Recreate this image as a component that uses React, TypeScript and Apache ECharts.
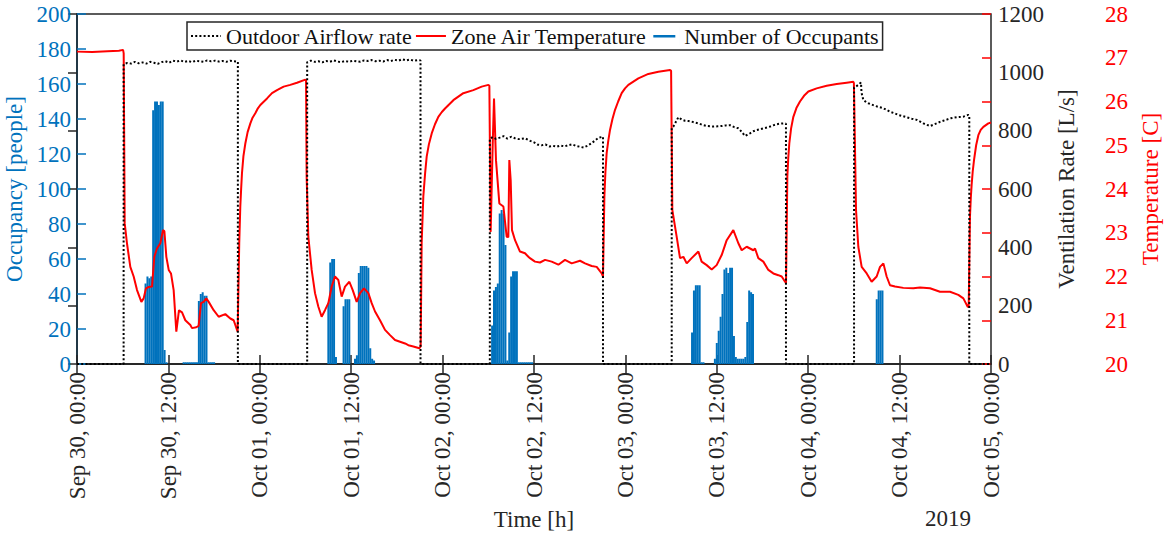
import React, { useEffect, useRef } from 'react';
import * as echarts from 'echarts';

const FONT = '"Liberation Serif", "Times New Roman", Times, serif';
const BLUE = '#0072BD';
const RED = '#FF0000';
const DARK = '#262626';

// x tick labels, one every 12 hours starting Sep 30 00:00
const tickLabels = [
  'Sep 30, 00:00', 'Sep 30, 12:00', 'Oct 01, 00:00', 'Oct 01, 12:00',
  'Oct 02, 00:00', 'Oct 02, 12:00', 'Oct 03, 00:00', 'Oct 03, 12:00',
  'Oct 04, 00:00', 'Oct 04, 12:00', 'Oct 05, 00:00',
];

// Zone air temperature [C], [hour since Sep 30 00:00, value]
const tempSep30: [number, number][] = [
  [0, 27.14], [2, 27.13], [4, 27.15], [5.5, 27.16], [6.05, 27.18], [6.13, 27.1], [6.26, 23.22],
  [6.56, 22.76], [7.0, 22.22], [7.44, 22.0], [7.88, 21.69], [8.45, 21.42], [8.75, 21.5],
  [9.06, 21.73], [9.41, 21.76], [9.85, 21.77], [10.15, 22.45], [10.5, 22.64], [10.94, 22.76],
  [11.29, 23.06], [11.47, 23.04], [11.73, 22.45], [12.04, 22.15], [12.34, 22.07], [12.69, 21.69],
  [13.04, 20.74], [13.39, 21.23], [13.79, 21.18], [14.22, 21.0], [14.88, 20.89], [15.1, 20.82],
  [15.67, 20.84], [15.97, 20.87], [16.28, 21.39], [16.63, 21.42], [16.98, 21.5], [17.29, 21.42],
  [17.94, 21.23], [18.6, 21.08], [19.47, 21.14], [20.13, 21.04], [20.57, 21.0], [21.09, 20.74],
  [21.3, 22.76], [21.44, 23.6], [21.55, 24.0], [21.66, 24.36], [21.85, 24.75], [22.1, 25.04],
  [22.4, 25.3], [22.76, 25.5], [23.05, 25.63], [23.41, 25.73], [23.7, 25.83],
];
const tempOct01: [number, number][] = [
  [24.07, 25.92], [24.95, 26.07], [25.6, 26.19], [26.26, 26.26], [27.13, 26.34], [28.0, 26.38],
  [28.88, 26.43], [29.98, 26.5], [30.07, 26.48], [30.15, 24.28], [30.37, 22.91], [30.81, 22.15],
  [31.25, 21.62], [31.69, 21.31], [32.12, 21.08], [32.56, 21.23], [33.0, 21.39], [33.44, 21.77],
  [33.87, 22.0], [34.31, 21.92], [34.75, 21.54], [35.19, 21.77], [35.76, 21.88], [36.2, 21.69],
  [36.72, 21.42], [37.16, 21.62], [37.68, 21.73], [38.25, 21.62], [38.69, 21.39], [39.13, 21.2],
  [39.78, 21.0], [40.44, 20.78], [41.1, 20.66], [41.75, 20.55], [42.41, 20.51], [43.07, 20.47],
  [43.5, 20.43], [44.16, 20.4], [44.95, 20.36], [45.12, 20.4], [45.25, 22.76], [45.47, 23.83],
  [45.7, 24.35], [45.91, 24.74], [46.2, 25.02], [46.57, 25.27], [47.0, 25.48], [47.44, 25.65],
  [47.9, 25.76],
];
const tempOct02: [number, number][] = [
  [48.32, 25.84], [49.41, 26.03], [50.72, 26.19], [52.04, 26.26], [53.13, 26.34], [54.01, 26.38],
  [54.14, 26.36], [54.31, 23.02], [54.58, 25.04], [54.75, 26.07], [55.01, 24.66], [55.45, 23.67],
  [55.98, 23.6], [56.41, 22.91], [56.63, 22.9], [56.76, 24.66], [56.94, 24.2], [57.11, 23.06],
  [57.51, 22.83], [58.16, 22.57], [58.82, 22.53], [59.26, 22.45], [59.47, 22.42], [60.13, 22.34],
  [60.79, 22.32], [61.45, 22.38], [62.32, 22.34], [63.2, 22.27], [64.07, 22.38], [64.95, 22.3],
  [66.04, 22.36], [66.7, 22.3], [67.57, 22.24], [68.23, 22.22], [68.89, 22.07], [69.06, 22.0],
  [69.24, 23.83], [69.38, 24.4], [69.54, 24.82], [69.75, 25.1], [69.98, 25.35], [70.3, 25.6],
  [70.64, 25.81], [71.05, 26.0], [71.51, 26.19], [71.95, 26.3],
];
const tempOct03: [number, number][] = [
  [72.39, 26.38], [73.7, 26.53], [75.01, 26.63], [76.33, 26.68], [77.86, 26.72], [78.0, 26.7],
  [78.16, 23.52], [78.73, 22.91], [79.17, 22.42], [79.61, 22.45], [80.05, 22.3], [80.7, 22.42],
  [81.58, 22.57], [82.01, 22.34], [82.67, 22.26], [83.33, 22.16], [83.98, 22.26], [84.64, 22.49],
  [85.3, 22.83], [86.17, 23.06], [86.83, 22.76], [87.27, 22.6], [87.92, 22.68], [88.8, 22.6],
  [89.02, 22.64], [89.45, 22.42], [90.11, 22.34], [90.77, 22.15], [91.42, 22.07], [92.08, 22.03],
  [92.52, 22.0], [92.96, 21.88], [93.09, 21.85], [93.26, 24.28], [93.38, 24.7], [93.52, 25.04],
  [93.75, 25.38], [94.05, 25.65], [94.45, 25.85], [94.92, 26.0], [95.45, 26.13],
];
const tempOct04: [number, number][] = [
  [96.02, 26.23], [97.11, 26.3], [98.43, 26.36], [99.74, 26.4], [101.05, 26.43], [101.93, 26.45],
  [102.0, 26.42], [102.28, 23.52], [102.58, 22.68], [103.02, 22.22], [103.68, 22.07], [104.33, 21.88],
  [104.99, 22.0], [105.43, 22.22], [105.87, 22.3], [106.3, 22.0], [106.74, 21.8], [107.4, 21.77],
  [108.49, 21.74], [109.8, 21.73], [110.68, 21.75], [111.99, 21.73], [113.3, 21.65], [114.62, 21.65],
  [115.71, 21.58], [116.37, 21.5], [116.94, 21.31], [117.07, 21.3], [117.24, 23.37], [117.35, 23.8],
  [117.46, 24.1], [117.6, 24.4], [117.77, 24.66], [118.05, 25.0], [118.34, 25.23], [118.65, 25.35],
  [119.0, 25.42], [119.65, 25.5], [120, 25.52],
];

// Outdoor airflow rate [L/s]
const ventSep30: [number, number][] = [
  [0, 0], [6.12, 0], [6.12, 1028], [6.6, 1032], [7.1, 1030], [7.6, 1036], [8.1, 1031], [8.6, 1034],
  [9.1, 1030], [9.6, 1036], [10.1, 1033], [10.6, 1029], [11.1, 1035], [11.6, 1038], [12.1, 1033],
  [12.6, 1040], [13.1, 1037], [13.6, 1041], [14.1, 1036], [14.6, 1039], [15.1, 1035], [15.6, 1040],
  [16.1, 1038], [16.6, 1036], [17.1, 1041], [17.6, 1038], [18.1, 1040], [18.6, 1037], [19.1, 1039],
  [19.6, 1036], [20.1, 1040], [20.6, 1038], [21.12, 1037], [21.12, 0],
];
const ventOct01: [number, number][] = [
  [30.22, 0], [30.22, 1035], [30.7, 1040], [31.2, 1036], [31.7, 1038], [32.2, 1034], [32.7, 1039],
  [33.2, 1036], [33.7, 1041], [34.2, 1037], [34.7, 1035], [35.2, 1039], [35.7, 1036], [36.2, 1040],
  [36.7, 1038], [37.2, 1036], [37.7, 1041], [38.2, 1039], [38.7, 1042], [39.2, 1038], [39.7, 1040],
  [40.2, 1037], [40.7, 1042], [41.2, 1039], [41.7, 1043], [42.2, 1040], [42.7, 1045], [43.2, 1041],
  [43.7, 1044], [44.2, 1040], [44.7, 1042], [45.1, 1041], [45.1, 0],
];
const ventOct02: [number, number][] = [
  [54.2, 0], [54.2, 772], [54.6, 778], [55.0, 772], [55.5, 776], [56.0, 781], [56.5, 773],
  [57.0, 779], [57.5, 774], [58.0, 771], [58.8, 774], [59.5, 765], [60.0, 760], [60.5, 752],
  [61.0, 750], [61.5, 753], [62.0, 746], [62.5, 748], [63.0, 745], [63.5, 749], [64.0, 746],
  [64.5, 750], [65.0, 753], [65.5, 748], [66.0, 745], [66.5, 742], [67.0, 748], [67.5, 756],
  [68.0, 766], [68.5, 776], [69.06, 779], [69.06, 0],
];
const ventOct03: [number, number][] = [
  [78.08, 0], [78.08, 810], [78.3, 814], [78.95, 846], [79.4, 838], [79.83, 834], [80.3, 833],
  [80.7, 831], [81.1, 828], [81.58, 825], [82.1, 820], [82.67, 816], [83.1, 815], [83.55, 814],
  [84.1, 815], [84.64, 816], [85.2, 818], [85.73, 819], [86.3, 812], [86.83, 808], [87.3, 795],
  [87.7, 782], [88.0, 786], [88.36, 791], [88.8, 798], [89.2, 802], [89.7, 805], [90.1, 808],
  [90.6, 811], [91.0, 814], [91.4, 818], [91.86, 822], [92.3, 824], [92.74, 825], [93.08, 824],
  [93.08, 0],
];
const ventOct04: [number, number][] = [
  [102.02, 0], [102.02, 948], [102.3, 952], [102.58, 957], [102.93, 965], [103.0, 930],
  [103.24, 905], [103.6, 898], [103.9, 894], [104.3, 890], [104.77, 885], [105.3, 881],
  [105.86, 877], [106.3, 871], [106.74, 865], [107.3, 860], [107.83, 854], [108.4, 850],
  [108.93, 846], [109.6, 841], [110.24, 837], [110.7, 831], [111.12, 825], [111.6, 820],
  [112.0, 816], [112.4, 820], [112.87, 825], [113.3, 830], [113.74, 834], [114.2, 838],
  [114.62, 842], [115.05, 844], [115.49, 846], [115.9, 847], [116.37, 848], [116.7, 851],
  [117.0, 854], [117.15, 852], [117.15, 0], [120, 0],
];

// Number of occupants, 15-minute bins; each block starts at the given hour
const occStarts = [9.0, 14.0, 33.0, 54.5, 80.75, 83.75, 105.0];
const occSep30Morning = [46, 50, 49, 50, 145, 150, 150, 148, 150, 150, 8, 1];
const occSep30Afternoon = [1, 1, 1, 1, 1, 1, 1, 1, 36, 40, 41, 39, 39, 1, 1, 1, 1];
const occOct01 = [35, 58, 60, 60, 4, 0, 0, 0, 33, 37, 37, 37, 0, 0, 3, 5, 52, 56, 56, 56, 56, 55, 9, 3, 2];
const occOct02 = [22, 42, 44, 46, 86, 88, 86, 68, 2, 18, 50, 53, 53, 53, 1, 1, 1, 1, 1, 1, 1, 1];
const occOct03Morning = [18, 42, 45, 45, 45, 1, 1];
const occOct03Afternoon = [3, 12, 19, 27, 40, 54, 55, 52, 55, 55, 16, 4, 3, 3, 3, 3, 4, 24, 42, 41, 40];
const occOct04 = [37, 42, 42, 42];
const occBlocks = [occSep30Morning, occSep30Afternoon, occOct01, occOct02, occOct03Morning, occOct03Afternoon, occOct04];

const occupancyData: [number, number][] = [];
occBlocks.forEach((block, bi) => {
  block.forEach((v, i) => {
    if (v > 0) occupancyData.push([occStarts[bi] + i * 0.25, v]);
  });
});

const temperatureData = [...tempSep30, ...tempOct01, ...tempOct02, ...tempOct03, ...tempOct04];
const ventilationData = [...ventSep30, ...ventOct01, ...ventOct02, ...ventOct03, ...ventOct04];

const occIcon = 'path://M0,0h0.01v18h-0.01z M4,8h22v2.5h-22z M29.99,0h0.01v18h-0.01z';

export default function App() {
  const ref = useRef<HTMLDivElement>(null);
  useEffect(() => {
    if (!ref.current) return;
    const chart = echarts.init(ref.current, null, { renderer: 'svg' });
    const axisFont = { fontFamily: FONT, fontSize: 23 };
    chart.setOption({
      animation: false,
      backgroundColor: '#fff',
      textStyle: { fontFamily: FONT },
      grid: {
        left: 77, right: 177, top: 14, bottom: 172,
        containLabel: false, outerBoundsMode: 'none',
        show: true, borderColor: DARK, borderWidth: 1.5, backgroundColor: 'transparent',
      },
      legend: {
        left: 187, top: 22,
        padding: [3, 4, 3, 3],
        itemGap: 2,
        itemWidth: 30, itemHeight: 18,
        borderColor: DARK, borderWidth: 1.5, borderRadius: 0,
        backgroundColor: '#fff',
        textStyle: { fontFamily: FONT, fontSize: 22, color: '#111' },
        data: [
          { name: 'Outdoor Airflow rate', itemStyle: { opacity: 0 } },
          { name: 'Zone Air Temperature', itemStyle: { opacity: 0 } },
          { name: 'Number of Occupants', icon: occIcon },
        ],
      },
      xAxis: [
        {
          type: 'value', min: 0, max: 120, interval: 12, position: 'bottom',
          axisLine: { show: true, lineStyle: { color: DARK, width: 1.5 } },
          axisTick: { show: true, inside: true, length: 9, lineStyle: { color: DARK, width: 1.5 } },
          axisLabel: {
            ...axisFont, color: DARK, rotate: 90, margin: 8,
            formatter: (v: number) => tickLabels[Math.round(v / 12)] ?? '',
          },
          splitLine: { show: false },
          name: 'Time [h]', nameLocation: 'middle', nameGap: 144,
          nameTextStyle: { ...axisFont, color: DARK },
        },
        {
          type: 'value', min: 0, max: 120, interval: 12, position: 'top',
          axisLine: { show: true, lineStyle: { color: DARK, width: 1.5 } },
          axisTick: { show: true, inside: true, length: 9, lineStyle: { color: DARK, width: 1.5 } },
          axisLabel: { show: false },
          splitLine: { show: false },
        },
      ],
      yAxis: [
        {
          type: 'value', min: 0, max: 200, interval: 20, position: 'left',
          axisLine: { show: true, lineStyle: { color: BLUE, width: 1.5 } },
          axisTick: { show: true, inside: true, length: 9, lineStyle: { color: BLUE, width: 1.5 } },
          axisLabel: { ...axisFont, color: BLUE, margin: 6, formatter: (v: number) => String(v) },
          splitLine: { show: false },
          name: 'Occupancy [people]', nameLocation: 'middle', nameGap: 39, nameRotate: 90,
          nameTextStyle: { ...axisFont, color: BLUE },
        },
        {
          type: 'value', min: 0, max: 1200, interval: 200, position: 'right',
          axisLine: { show: true, lineStyle: { color: DARK, width: 1.5 } },
          axisTick: { show: true, inside: true, length: 9, lineStyle: { color: DARK, width: 1.5 } },
          axisLabel: { ...axisFont, color: DARK, margin: 7, formatter: (v: number) => String(v) },
          splitLine: { show: false },
          name: 'Ventilation Rate [L/s]', nameLocation: 'middle', nameGap: 56, nameRotate: 90,
          nameTextStyle: { ...axisFont, color: DARK },
        },
        {
          type: 'value', min: 20, max: 28, interval: 1, position: 'right', offset: 107,
          axisLine: { show: false },
          axisTick: { show: false },
          axisLabel: { ...axisFont, color: RED, margin: 7, formatter: (v: number) => String(v) },
          splitLine: { show: false },
          name: 'Temperature [C]', nameLocation: 'middle', nameGap: 38, nameRotate: 90,
          nameTextStyle: { ...axisFont, color: RED },
        },
        {
          type: 'value', min: 20, max: 28, interval: 1, position: 'right',
          axisLine: { show: false },
          axisTick: { show: true, inside: true, length: 9, lineStyle: { color: RED, width: 1.5 } },
          axisLabel: { show: false },
          splitLine: { show: false },
        },
      ],
      graphic: [
        {
          type: 'text', left: 925, top: 507,
          style: { text: '2019', fill: DARK, fontFamily: FONT, fontSize: 23 },
        },
      ],
      series: [
        {
          name: 'Number of Occupants', type: 'bar', xAxisIndex: 0, yAxisIndex: 0,
          data: occupancyData, barWidth: 2, barGap: '-100%',
          itemStyle: { color: BLUE }, z: 1,
        },
        {
          name: 'Zone Air Temperature', type: 'line', xAxisIndex: 0, yAxisIndex: 3,
          data: temperatureData, symbol: 'none', showSymbol: false,
          lineStyle: { color: RED, width: 2 }, itemStyle: { color: RED }, z: 3,
        },
        {
          name: 'Outdoor Airflow rate', type: 'line', xAxisIndex: 0, yAxisIndex: 1,
          data: ventilationData, symbol: 'none', showSymbol: false,
          lineStyle: { color: '#000', width: 2, type: [2, 2.2] }, itemStyle: { color: '#000' }, z: 4,
        },
      ],
    });
    return () => chart.dispose();
  }, []);
  return (
    <div
      ref={ref}
      style={{ position: 'absolute', left: 0, top: 0, width: 1168, height: 536, background: '#fff' }}
    />
  );
}
